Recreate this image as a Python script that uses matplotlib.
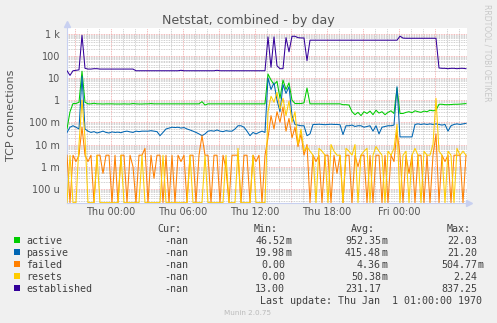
import numpy as np
import matplotlib.pyplot as plt
from matplotlib.patches import Rectangle
from matplotlib.ticker import FixedLocator, LogLocator, MultipleLocator, NullFormatter

W, H = 497, 323

# 15 minute samples, hours relative to Thu 00:00
hours = -11 / 3 + 0.25 * np.arange(134)

active = ([0.05, 0.3, 0.7, 0.7, 0.8, 20, 0.8]
          + [0.68, 0.68, 0.72, 0.68, 0.68, 0.67, 0.68, 0.68, 0.68, 0.67,
             0.67, 0.67, 0.68, 0.67, 0.67, 0.7, 0.68, 0.67, 0.67, 0.68,
             0.68, 0.7, 0.68, 0.68, 0.68, 0.68, 0.68, 0.68, 0.68, 0.68,
             0.68, 0.68, 0.68, 0.68, 0.68, 0.68, 0.68, 0.68, 0.85, 0.6]
          + [0.68] * 20
          + [15, 8, 5, 7, 1.2, 8, 3, 6, 1.0, 0.7, 0.7, 0.7, 0.75, 3.5]
          + [0.68] * 11
          + [0.62, 0.62, 0.6]
          + [0.3, 0.22, 0.28, 0.2, 0.3, 0.25, 0.32, 0.22, 0.35, 0.26, 0.3, 0.22, 0.28, 0.33, 0.25]
          + [3.5]
          + [0.25, 0.25, 0.28, 0.3, 0.27, 0.33, 0.3, 0.28, 0.32, 0.3, 0.35, 0.33]
          + [0.35]
          + [0.65, 0.65, 0.62, 0.62, 0.63, 0.65, 0.65, 0.66, 0.68, 0.7])

passive = ([0.035, 0.06, 0.07, 0.06, 0.05, 12, 0.05]
           + [0.04, 0.035, 0.038, 0.033, 0.036, 0.04, 0.035, 0.033, 0.037, 0.035,
              0.036, 0.034, 0.038, 0.04, 0.037, 0.035, 0.04, 0.038, 0.04, 0.04,
              0.04, 0.042, 0.04, 0.038, 0.025, 0.035, 0.05, 0.055, 0.06, 0.058,
              0.06, 0.055, 0.058, 0.05, 0.045, 0.04, 0.035, 0.03, 0.025, 0.03,
              0.04, 0.042, 0.04, 0.045, 0.04, 0.038, 0.042, 0.04, 0.04, 0.05,
              0.07, 0.07, 0.06, 0.04, 0.025, 0.035, 0.03, 0.035, 0.04, 0.035]
           + [10, 3, 6, 1, 0.3, 5, 2, 4, 0.2, 0.08, 0.075, 0.07, 0.07, 0.025]
           + [0.03, 0.08]
           + [0.08, 0.082, 0.08, 0.078, 0.08, 0.082, 0.08, 0.08, 0.078]
           + [0.028, 0.07]
           + [0.07, 0.075, 0.065, 0.07, 0.07, 0.06, 0.065, 0.07, 0.04, 0.07,
              0.03, 0.06, 0.065, 0.07, 0.07, 0.075]
           + [4]
           + [0.022] * 5
           + [0.08]
           + [0.085, 0.08, 0.085, 0.08, 0.085, 0.08, 0.085, 0.08, 0.075, 0.08,
              0.04, 0.07, 0.08, 0.085, 0.08, 0.085, 0.09])

# failed and resets in milli units
failed_m = [3.3, 0, 3.3, 1.7, 3.3, 60, 3.3,
            1.7, 3.3, 0, 3.3, 3.3, 0.5, 3.3, 3.3, 0, 3.3,
            0, 3.3, 3.3, 0, 3.3, 1, 0, 3.3, 3.3, 6.7,
            0, 3.3, 0.3, 3.3, 3.3, 0, 3.3, 0, 3.3, 0,
            3.3, 1.7, 3.3, 0, 3.3, 3.3, 0, 3.3, 25, 3.3,
            3.3, 0, 3.3, 3.3, 0, 3.3, 0.8, 0, 3.3, 3.3,
            3.3, 0, 3.3, 3.3, 0, 3.3, 1.7, 3.3, 0, 3.3,
            20, 200, 50, 300, 100, 500, 40, 150, 20, 60, 8, 30, 3.3, 10,
            0, 3.3, 1.7, 3.3, 0, 3.3, 3.3, 0, 3.3, 0.5,
            3.3, 0, 3.3, 3.3, 0, 3.3, 1, 3.3, 3.3, 0,
            3.3, 0, 3.3, 3.3, 0, 3.3, 0, 3.3, 1.7, 40,
            3.3, 0, 3.3, 0.5, 3.3, 0, 3.3, 3.3, 0, 3.3,
            0, 3.3, 30, 0, 3.3, 1.7, 3.3, 0, 3.3, 3.3,
            3.3, 0, 3.3]

resets_m = [0, 3.3, 0, 0, 10, 1000, 20,
            0, 0, 0, 3.3, 0, 0, 0, 0, 0, 0,
            0, 3.3, 0, 0, 0, 0, 0, 0, 3.3, 0,
            0, 0, 0, 0, 0, 3.3, 0, 0, 0, 0,
            0, 0, 0, 0, 3.3, 0, 0, 0, 0, 3.3,
            0, 0, 0, 0, 0, 0, 3.3, 0, 0, 0,
            6.7, 0, 0, 0, 0, 3.3, 0, 0, 0, 0,
            300, 1500, 800, 2240, 400, 1200, 200, 900, 100, 300, 10, 50, 5, 8,
            5, 3.3, 0, 6.7, 5, 3.3, 0, 10, 5, 3.3,
            3.3, 0, 6.7, 5, 3.3, 10, 0, 3.3, 5, 6.7,
            0, 3.3, 8, 5, 3.3, 0, 5, 3.3, 6.7, 80,
            0, 3.3, 5, 0, 3.3, 6.7, 3.3, 0, 5, 3.3,
            3.3, 10, 1200, 5, 3.3, 0, 5, 3.3, 0, 6.7,
            3.3, 5, 3.3]

established = ([21, 13, 21, 22, 23, 830, 27]
               + [25, 25, 26, 26, 25, 25, 25, 25, 25, 25, 25, 25, 25, 25, 25, 25]
               + [21] * 15 + [22] + [21] * 11 + [22] + [21] * 16
               + [700, 30, 700, 35, 26, 26, 650, 150, 750, 750, 650, 630, 630, 60]
               + [500] * 30
               + [760, 620]
               + [610] * 11
               + [28, 27, 27, 26, 27, 27, 26, 27, 27, 26])

series_names = ['active', 'passive', 'failed', 'resets', 'established']
series_colors = ['#00CC00', '#0066B3', '#FF8000', '#FFCC00', '#330099']
cur_vals = ['-nan'] * 5
min_vals = ['46.52m', '19.98m', '0.00', '0.00', '13.00']
avg_vals = ['952.35m', '415.48m', '4.36m', '50.38m', '231.17']
max_vals = ['22.03', '21.20', '504.77m', '2.24', '837.25']

ytick_vals = [1e-4, 1e-3, 1e-2, 1e-1, 1, 10, 100, 1000]
ytick_labels = ['100 u', '1 m', '10 m', '100 m', '1', '10', '100', '1 k']
xtick_hours = list(range(-3, 30, 3))
xtick_labels = {0: 'Thu 00:00', 6: 'Thu 06:00', 12: 'Thu 12:00', 18: 'Thu 18:00', 24: 'Fri 00:00'}


def fx(x):
    return x / W


def fy(y):
    return 1 - y / H


fig = plt.figure(figsize=(W / 100, H / 100), dpi=100, facecolor='#F0F0F0')
ax = fig.add_axes([fx(67), fy(203), 400 / W, 175 / H])
ax.set_facecolor('white')
ax.set_yscale('log')
ymin, ymax = 10 ** -4.635, 10 ** 3.248
ax.set_ylim(ymin, ymax)
ax.set_xlim(-11 / 3, 29 + 2 / 3)

floor = 10 ** -4.62
data = [np.array(active), np.array(passive), np.array(failed_m) / 1000,
        np.array(resets_m) / 1000, np.array(established, dtype=float)]
for vals, col in zip(data, series_colors):
    ax.plot(hours, np.maximum(vals, floor), color=col, lw=0.75, zorder=3)

# grid like rrdtool
ax.yaxis.set_major_locator(FixedLocator(ytick_vals))
ax.set_yticklabels(ytick_labels)
ax.yaxis.set_minor_locator(LogLocator(base=10, subs=range(2, 10), numticks=20))
ax.yaxis.set_minor_formatter(NullFormatter())
ax.xaxis.set_major_locator(FixedLocator(xtick_hours))
ax.set_xticklabels([xtick_labels.get(h, '') for h in xtick_hours])
ax.xaxis.set_minor_locator(MultipleLocator(1))
ax.tick_params(which='both', length=0)
ax.tick_params(axis='y', pad=5, labelsize=7, labelcolor='#555555')
ax.tick_params(axis='x', pad=3, labelsize=7, labelcolor='#555555')
ax.grid(which='minor', color='#C0C0C0', ls=(0, (1, 1)), lw=0.6, zorder=0)
ax.grid(which='major', color='#F0A0A0', ls=(0, (1, 1)), lw=0.6, zorder=1)
ax.set_axisbelow(True)

axis_col = '#C8D0F0'
for s in ['top', 'right']:
    ax.spines[s].set_visible(False)
for s in ['left', 'bottom']:
    ax.spines[s].set_color(axis_col)
    ax.spines[s].set_linewidth(0.8)
ax.plot([0], [1.025], marker='^', ms=4, color=axis_col, transform=ax.transAxes, clip_on=False)
ax.plot([1.006], [0], marker='>', ms=4, color=axis_col, transform=ax.transAxes, clip_on=False)

# titles
fig.text(fx(248), fy(24), 'Netstat, combined - by day', ha='center', va='baseline',
         fontsize=9.1, color='#555555')
fig.text(fx(11), fy(115), 'TCP connections', rotation=90, ha='center', va='center',
         fontsize=8, color='#555555')
fig.text(fx(486.5), fy(53), 'RRDTOOL / TOBI OETIKER', rotation=270, ha='center', va='center',
         fontsize=5.5, color='#C8C8C8')

# legend
mono = dict(family='DejaVu Sans Mono', fontsize=7.2, color='#404040', va='baseline')
fig.text(fx(157.4), fy(231.5), 'Cur:', ha='left', **mono)
fig.text(fx(253.5), fy(231.5), 'Min:', ha='left', **mono)
fig.text(fx(350.9), fy(231.5), 'Avg:', ha='left', **mono)
fig.text(fx(446.5), fy(231.5), 'Max:', ha='left', **mono)


def put_value(xend, y, s):
    if s[-1].isalpha() and s != '-nan':
        fig.text(fx(xend), fy(y), s[:-1], ha='right', **mono)
        fig.text(fx(xend), fy(y), s[-1], ha='left', **mono)
    else:
        fig.text(fx(xend), fy(y), s, ha='right', **mono)


for k, name in enumerate(series_names):
    yb = 243.5 + 12 * k
    fig.patches.append(Rectangle((fx(14), fy(yb - 0.5)), 6 / W, 6 / H, transform=fig.transFigure,
                                 facecolor=series_colors[k], edgecolor='none'))
    fig.text(fx(26.1), fy(yb), name, ha='left', **mono)
    put_value(188.6, yb, cur_vals[k])
    put_value(285.2, yb, min_vals[k])
    put_value(381.0, yb, avg_vals[k])
    put_value(477.6, yb, max_vals[k])

fig.text(fx(260), fy(303.5), 'Last update: Thu Jan  1 01:00:00 1970', ha='left', **mono)
fig.text(fx(248), fy(315), 'Munin 2.0.75', ha='center', va='baseline', fontsize=5.2, color='#BBBBBB')

fig.savefig('out.png', dpi=100, facecolor=fig.get_facecolor())
